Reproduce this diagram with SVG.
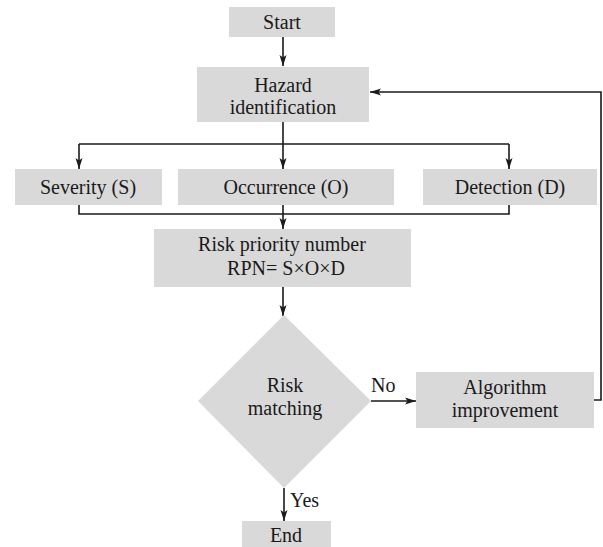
<svg xmlns="http://www.w3.org/2000/svg" width="603" height="547" viewBox="0 0 603 547">
<style>
.box{fill:#d9d9d9;}
.t{font-family:"Liberation Serif","Times New Roman",serif;font-size:20px;fill:#1a1a1a;text-anchor:middle;}
.tl{font-family:"Liberation Serif","Times New Roman",serif;font-size:20px;fill:#1a1a1a;}
.ln{fill:none;stroke:#1a1a1a;stroke-width:1.6;}
.ar{fill:none;stroke:#1a1a1a;stroke-width:1.6;marker-end:url(#ah);}
</style>
<defs>
<marker id="ah" markerUnits="userSpaceOnUse" markerWidth="12" markerHeight="8" refX="11" refY="4" orient="auto">
<path d="M0,0.5 L11,4 L0,7.5 L2.5,4 z" fill="#1a1a1a"/>
</marker>
</defs>
<rect width="603" height="547" fill="#ffffff"/>
<g id="connectors">
<line class="ar" x1="283" y1="37" x2="283" y2="66"/>
<line class="ln" x1="283" y1="122" x2="283" y2="144"/>
<line class="ln" x1="79" y1="144" x2="509" y2="144"/>
<line class="ar" x1="79" y1="144" x2="79" y2="169"/>
<line class="ar" x1="283" y1="144" x2="283" y2="169"/>
<line class="ar" x1="509" y1="144" x2="509" y2="169"/>
<polyline class="ln" points="79,205 79,214 509,214 509,205"/>
<line class="ar" x1="283" y1="205" x2="283" y2="229"/>
<line class="ar" x1="283" y1="287" x2="283" y2="316"/>
<line class="ar" x1="371" y1="401" x2="416" y2="401"/>
<text class="tl" x="371" y="392">No</text>
<polyline class="ar" points="594,400 601,400 601,92 370,92"/>
<line class="ar" x1="284" y1="488" x2="284" y2="521"/>
<text class="tl" x="290" y="507">Yes</text>
</g>
<g id="start">
<rect class="box" x="229" y="7" width="106" height="30"/>
<text class="t" x="282" y="29">Start</text>
</g>
<g id="hazard">
<rect class="box" x="197" y="67" width="172" height="55"/>
<text class="t" x="283" y="92">Hazard</text>
<text class="t" x="283" y="114">identification</text>
</g>
<g id="severity">
<rect class="box" x="15" y="169" width="147" height="36"/>
<text class="t" x="88" y="194">Severity (S)</text>
</g>
<g id="occurrence">
<rect class="box" x="178" y="169" width="216" height="36"/>
<text class="t" x="286" y="194">Occurrence (O)</text>
</g>
<g id="detection">
<rect class="box" x="423" y="169" width="174" height="36"/>
<text class="t" x="510" y="194">Detection (D)</text>
</g>
<g id="rpn">
<rect class="box" x="154" y="229" width="257" height="58"/>
<text class="t" x="282" y="251">Risk priority number</text>
<text class="t" x="286" y="275">RPN= S×O×D</text>
</g>
<g id="risk">
<polygon class="box" points="284,315 371,401 284,488 198,401"/>
<text class="t" x="285" y="392">Risk</text>
<text class="t" x="285" y="415">matching</text>
</g>
<g id="algorithm">
<rect class="box" x="416" y="372" width="178" height="56"/>
<text class="t" x="505" y="394">Algorithm</text>
<text class="t" x="505" y="417">improvement</text>
</g>
<g id="end">
<rect class="box" x="242" y="521" width="89" height="30"/>
<text class="t" x="286" y="542">End</text>
</g>
</svg>
